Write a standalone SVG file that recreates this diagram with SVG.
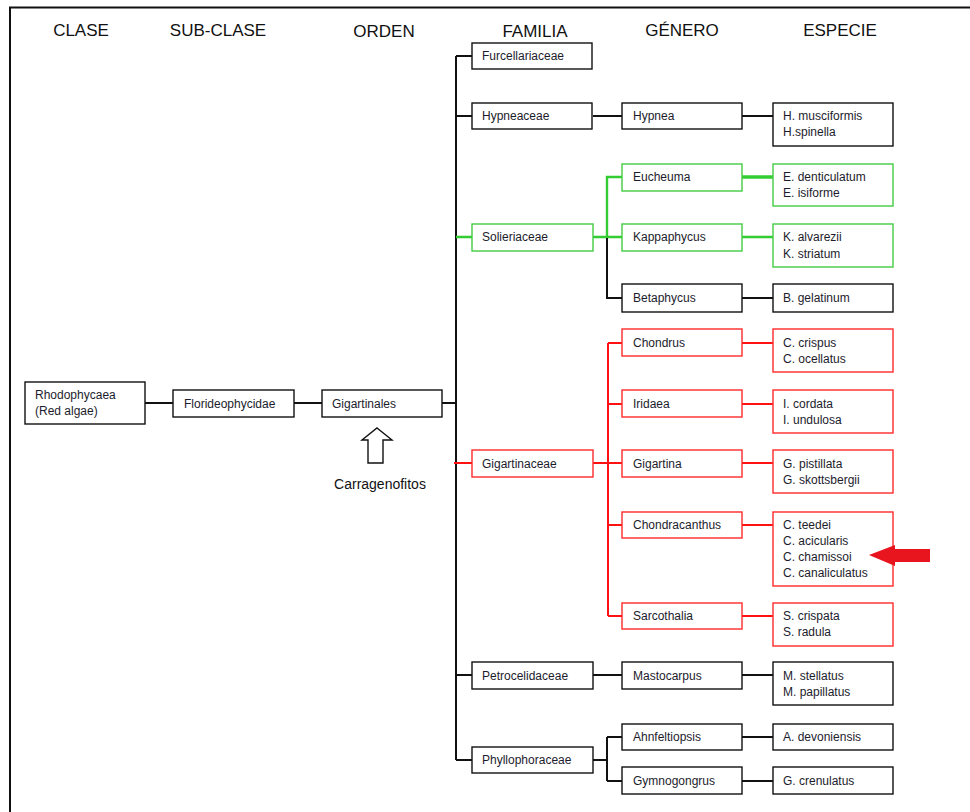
<svg xmlns="http://www.w3.org/2000/svg" width="970" height="812" viewBox="0 0 970 812">
<style>
.hdr{font-family:"Liberation Sans",Arial,sans-serif;font-size:17px;fill:#111;text-anchor:middle}
.t{font-family:"Liberation Sans",Arial,sans-serif;font-size:12px;fill:#1c1c2c}
.bk{fill:#fff;stroke:#111;stroke-width:1.4}
.bg{fill:#fff;stroke:#44cc44;stroke-width:1.4}
.br{fill:#fff;stroke:#ff2a2a;stroke-width:1.4}
.ck{stroke:#111;stroke-width:2;fill:none}
.cg{stroke:#33cc33;stroke-width:2.4;fill:none}
.cr{stroke:#ff1111;stroke-width:2;fill:none}
</style>
<rect width="970" height="812" fill="#fff"/>
<path d="M10,812 V7.5 H970" fill="none" stroke="#111" stroke-width="2"/>
<g id="headers">
<text class="hdr" x="81" y="36">CLASE</text>
<text class="hdr" x="218" y="36">SUB-CLASE</text>
<text class="hdr" x="384" y="37">ORDEN</text>
<text class="hdr" x="535" y="37">FAMILIA</text>
<text class="hdr" x="682" y="36">GÉNERO</text>
<text class="hdr" x="840" y="36">ESPECIE</text>
</g>
<g id="connectors">
<path class="ck" d="M145,403 H173 M294,403 H322 M442,403 H456 M456,56 V760"/>
<path class="ck" d="M456,56 H472 M456,116 H472 M456,675 H472 M456,760 H472"/>
<path class="ck" d="M593,116 H622 M742,116 H773"/>
<path class="cg" d="M456,237 H472 M593,237 H622 M607,237 V177 H622 M742,237 H773"/>
<path d="M742,177 H773" stroke="#33cc33" stroke-width="3.5" fill="none"/>
<path class="ck" d="M607,238 V298 H622 M742,298 H773"/>
<path class="cr" d="M454,463 H472 M593,463 H622 M608,343 V616 M608,343 H622 M608,404 H622 M608,525 H622 M608,616 H622 M742,343 H773 M742,404 H773 M742,463 H773 M742,525 H773 M742,616 H773"/>
<path class="ck" d="M593,675 H622 M742,675 H773"/>
<path class="ck" d="M593,760 H607 M607,737 V781 M607,737 H622 M607,781 H622 M742,737 H773 M742,781 H773"/>
</g>
<g id="rhodophycaea"><rect class="bk" x="25" y="382" width="120" height="42"/><text class="t" x="35" y="399">Rhodophycaea</text><text class="t" x="35" y="415">(Red algae)</text></g>
<g id="florideophycidae"><rect class="bk" x="173" y="390" width="121" height="27"/><text class="t" x="184" y="408">Florideophycidae</text></g>
<g id="gigartinales"><rect class="bk" x="322" y="390" width="120" height="27"/><text class="t" x="332" y="408">Gigartinales</text></g>
<g id="carragenofitos">
<path d="M377,428 L392,440 H383 V463 H368 V440 H362 Z" fill="#fff" stroke="#111" stroke-width="1.4" stroke-linejoin="miter"/>
<text x="380" y="489" style="font-family:'Liberation Sans',Arial,sans-serif;font-size:14px;fill:#111;text-anchor:middle">Carragenofitos</text>
</g>
<g id="furcellariaceae"><rect class="bk" x="472" y="43" width="120" height="26"/><text class="t" x="482" y="60">Furcellariaceae</text></g>
<g id="hypneaceae"><rect class="bk" x="472" y="103" width="120" height="26"/><text class="t" x="482" y="120">Hypneaceae</text></g>
<g id="hypnea"><rect class="bk" x="622" y="103" width="120" height="26"/><text class="t" x="633" y="120">Hypnea</text></g>
<g id="hypnea-sp"><rect class="bk" x="773" y="103" width="120" height="43"/><text class="t" x="783" y="120">H. musciformis</text><text class="t" x="783" y="136">H.spinella</text></g>
<g id="solieriaceae"><rect class="bg" x="472" y="224" width="121" height="27"/><text class="t" x="482" y="241">Solieriaceae</text></g>
<g id="eucheuma"><rect class="bg" x="622" y="164" width="120" height="27"/><text class="t" x="633" y="181">Eucheuma</text></g>
<g id="eucheuma-sp"><rect class="bg" x="773" y="164" width="120" height="42"/><text class="t" x="783" y="181">E. denticulatum</text><text class="t" x="783" y="197">E. isiforme</text></g>
<g id="kappaphycus"><rect class="bg" x="622" y="224" width="120" height="27"/><text class="t" x="633" y="241">Kappaphycus</text></g>
<g id="kappaphycus-sp"><rect class="bg" x="773" y="224" width="120" height="43"/><text class="t" x="783" y="241">K. alvarezii</text><text class="t" x="783" y="258">K. striatum</text></g>
<g id="betaphycus"><rect class="bk" x="622" y="284" width="120" height="28"/><text class="t" x="633" y="302">Betaphycus</text></g>
<g id="betaphycus-sp"><rect class="bk" x="773" y="284" width="120" height="28"/><text class="t" x="783" y="302">B. gelatinum</text></g>
<g id="gigartinaceae"><rect class="br" x="472" y="450" width="121" height="27"/><text class="t" x="482" y="468">Gigartinaceae</text></g>
<g id="chondrus"><rect class="br" x="622" y="329" width="120" height="27"/><text class="t" x="633" y="347">Chondrus</text></g>
<g id="chondrus-sp"><rect class="br" x="773" y="329" width="120" height="43"/><text class="t" x="783" y="347">C. crispus</text><text class="t" x="783" y="363">C. ocellatus</text></g>
<g id="iridaea"><rect class="br" x="622" y="390" width="120" height="27"/><text class="t" x="633" y="408">Iridaea</text></g>
<g id="iridaea-sp"><rect class="br" x="773" y="390" width="120" height="43"/><text class="t" x="783" y="408">I. cordata</text><text class="t" x="783" y="424">I. undulosa</text></g>
<g id="gigartina"><rect class="br" x="622" y="450" width="120" height="27"/><text class="t" x="633" y="468">Gigartina</text></g>
<g id="gigartina-sp"><rect class="br" x="773" y="450" width="120" height="43"/><text class="t" x="783" y="468">G. pistillata</text><text class="t" x="783" y="484">G. skottsbergii</text></g>
<g id="chondracanthus"><rect class="br" x="622" y="512" width="120" height="26"/><text class="t" x="633" y="529">Chondracanthus</text></g>
<g id="chondracanthus-sp"><rect class="br" x="773" y="512" width="120" height="74"/><text class="t" x="783" y="529">C. teedei</text><text class="t" x="783" y="545">C. acicularis</text><text class="t" x="783" y="561">C. chamissoi</text><text class="t" x="783" y="577">C. canaliculatus</text></g>
<g id="sarcothalia"><rect class="br" x="622" y="603" width="120" height="26"/><text class="t" x="633" y="620">Sarcothalia</text></g>
<g id="sarcothalia-sp"><rect class="br" x="773" y="603" width="120" height="43"/><text class="t" x="783" y="620">S. crispata</text><text class="t" x="783" y="636">S. radula</text></g>
<g id="pointer"><path d="M869,555 L895,545 V549 H930 V562 H895 V566 Z" fill="#e8141e"/></g>
<g id="petrocelidaceae"><rect class="bk" x="472" y="662" width="121" height="27"/><text class="t" x="482" y="680">Petrocelidaceae</text></g>
<g id="mastocarpus"><rect class="bk" x="622" y="662" width="120" height="27"/><text class="t" x="633" y="680">Mastocarpus</text></g>
<g id="mastocarpus-sp"><rect class="bk" x="773" y="662" width="120" height="43"/><text class="t" x="783" y="680">M. stellatus</text><text class="t" x="783" y="696">M. papillatus</text></g>
<g id="phyllophoraceae"><rect class="bk" x="472" y="747" width="121" height="26"/><text class="t" x="482" y="764">Phyllophoraceae</text></g>
<g id="ahnfeltiopsis"><rect class="bk" x="622" y="724" width="120" height="26"/><text class="t" x="633" y="741">Ahnfeltiopsis</text></g>
<g id="ahnfeltiopsis-sp"><rect class="bk" x="773" y="724" width="120" height="26"/><text class="t" x="783" y="741">A. devoniensis</text></g>
<g id="gymnogongrus"><rect class="bk" x="622" y="767" width="120" height="27"/><text class="t" x="633" y="785">Gymnogongrus</text></g>
<g id="gymnogongrus-sp"><rect class="bk" x="773" y="767" width="120" height="27"/><text class="t" x="783" y="785">G. crenulatus</text></g>
</svg>
